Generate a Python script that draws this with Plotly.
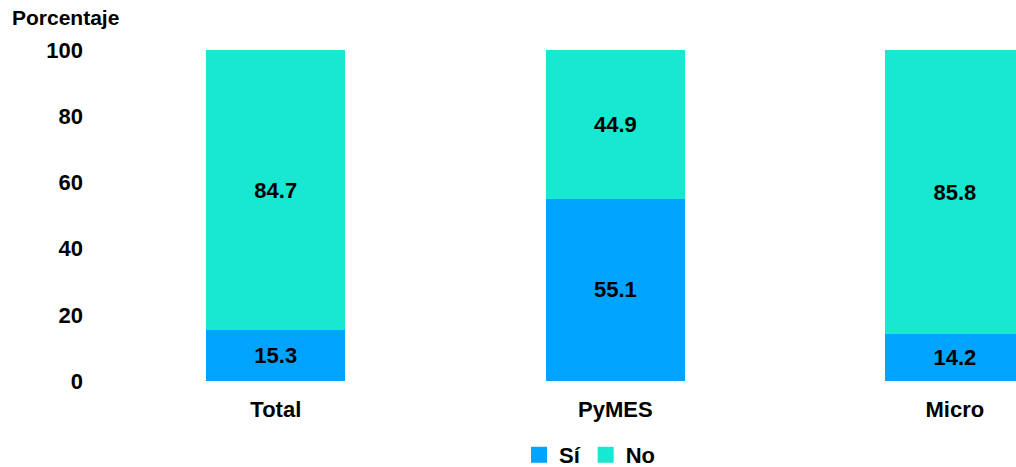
import plotly.graph_objects as go

categories = ["Total", "PyMES", "Micro"]
si_values = [15.3, 55.1, 14.2]
no_values = [84.7, 44.9, 85.8]
y_ticks = [0, 20, 40, 60, 80, 100]

font_family = "Liberation Sans, Arial, sans-serif"
blue = "#00A4FF"
teal = "#18E8D2"

W, H = 1016, 467

fig = go.Figure()
for vals, color in [(si_values, blue), (no_values, teal)]:
    fig.add_trace(go.Bar(
        x=categories, y=vals, showlegend=False,
        marker=dict(color=color, line=dict(width=0)),
        text=[f"<b>{v:.1f}</b>" for v in vals], textposition="inside",
        insidetextanchor="middle", textangle=0,
        textfont=dict(family=font_family, size=22, color="black"),
    ))
# legend entries
for name, color in [("Sí", blue), ("No", teal)]:
    fig.add_trace(go.Scatter(
        x=[None], y=[None], mode="markers", name=f"<b>{name}</b>",
        marker=dict(symbol="square", size=17, color=color),
    ))

fig.update_layout(
    barmode="stack",
    bargap=0.59,
    width=W, height=H,
    margin=dict(l=106, r=0, t=50, b=86, autoexpand=False),
    paper_bgcolor="white", plot_bgcolor="white",
    font=dict(family=font_family, size=22, color="black"),
    uniformtext=dict(mode="show", minsize=10),
    xaxis=dict(
        range=[-0.5, 2.18], showgrid=False, showline=False, zeroline=False,
        ticks="", tickfont=dict(family=font_family, size=22, color="black"),
        tickvals=categories, ticktext=[f"<b>{c}</b>" for c in categories],
        ticklabelstandoff=13,
    ),
    yaxis=dict(
        range=[0, 100], showgrid=False, showline=False, zeroline=False,
        tickvals=y_ticks, ticktext=[f"<b>{t}</b>" for t in y_ticks],
        tickfont=dict(family=font_family, size=22, color="black"),
        ticklabelstandoff=22,
    ),
    legend=dict(
        orientation="h", xref="container", yref="container",
        x=590 / W, xanchor="center", y=1 - 455 / H, yanchor="middle",
        font=dict(family=font_family, size=22, color="black"),
        itemwidth=30, traceorder="normal", tracegroupgap=0,
    ),
)
fig.add_annotation(
    text="<b>Porcentaje</b>", xref="paper", yref="paper",
    x=-106 / 910, xanchor="left", y=1 + (50 - 17) / 331, yanchor="middle",
    showarrow=False, font=dict(family=font_family, size=21, color="black"),
    xshift=10,
)

fig.write_html(
    "out.html",
    config={"displayModeBar": False},
    post_script="document.body.style.margin='0';"
                "document.documentElement.style.overflow='hidden';",
)
